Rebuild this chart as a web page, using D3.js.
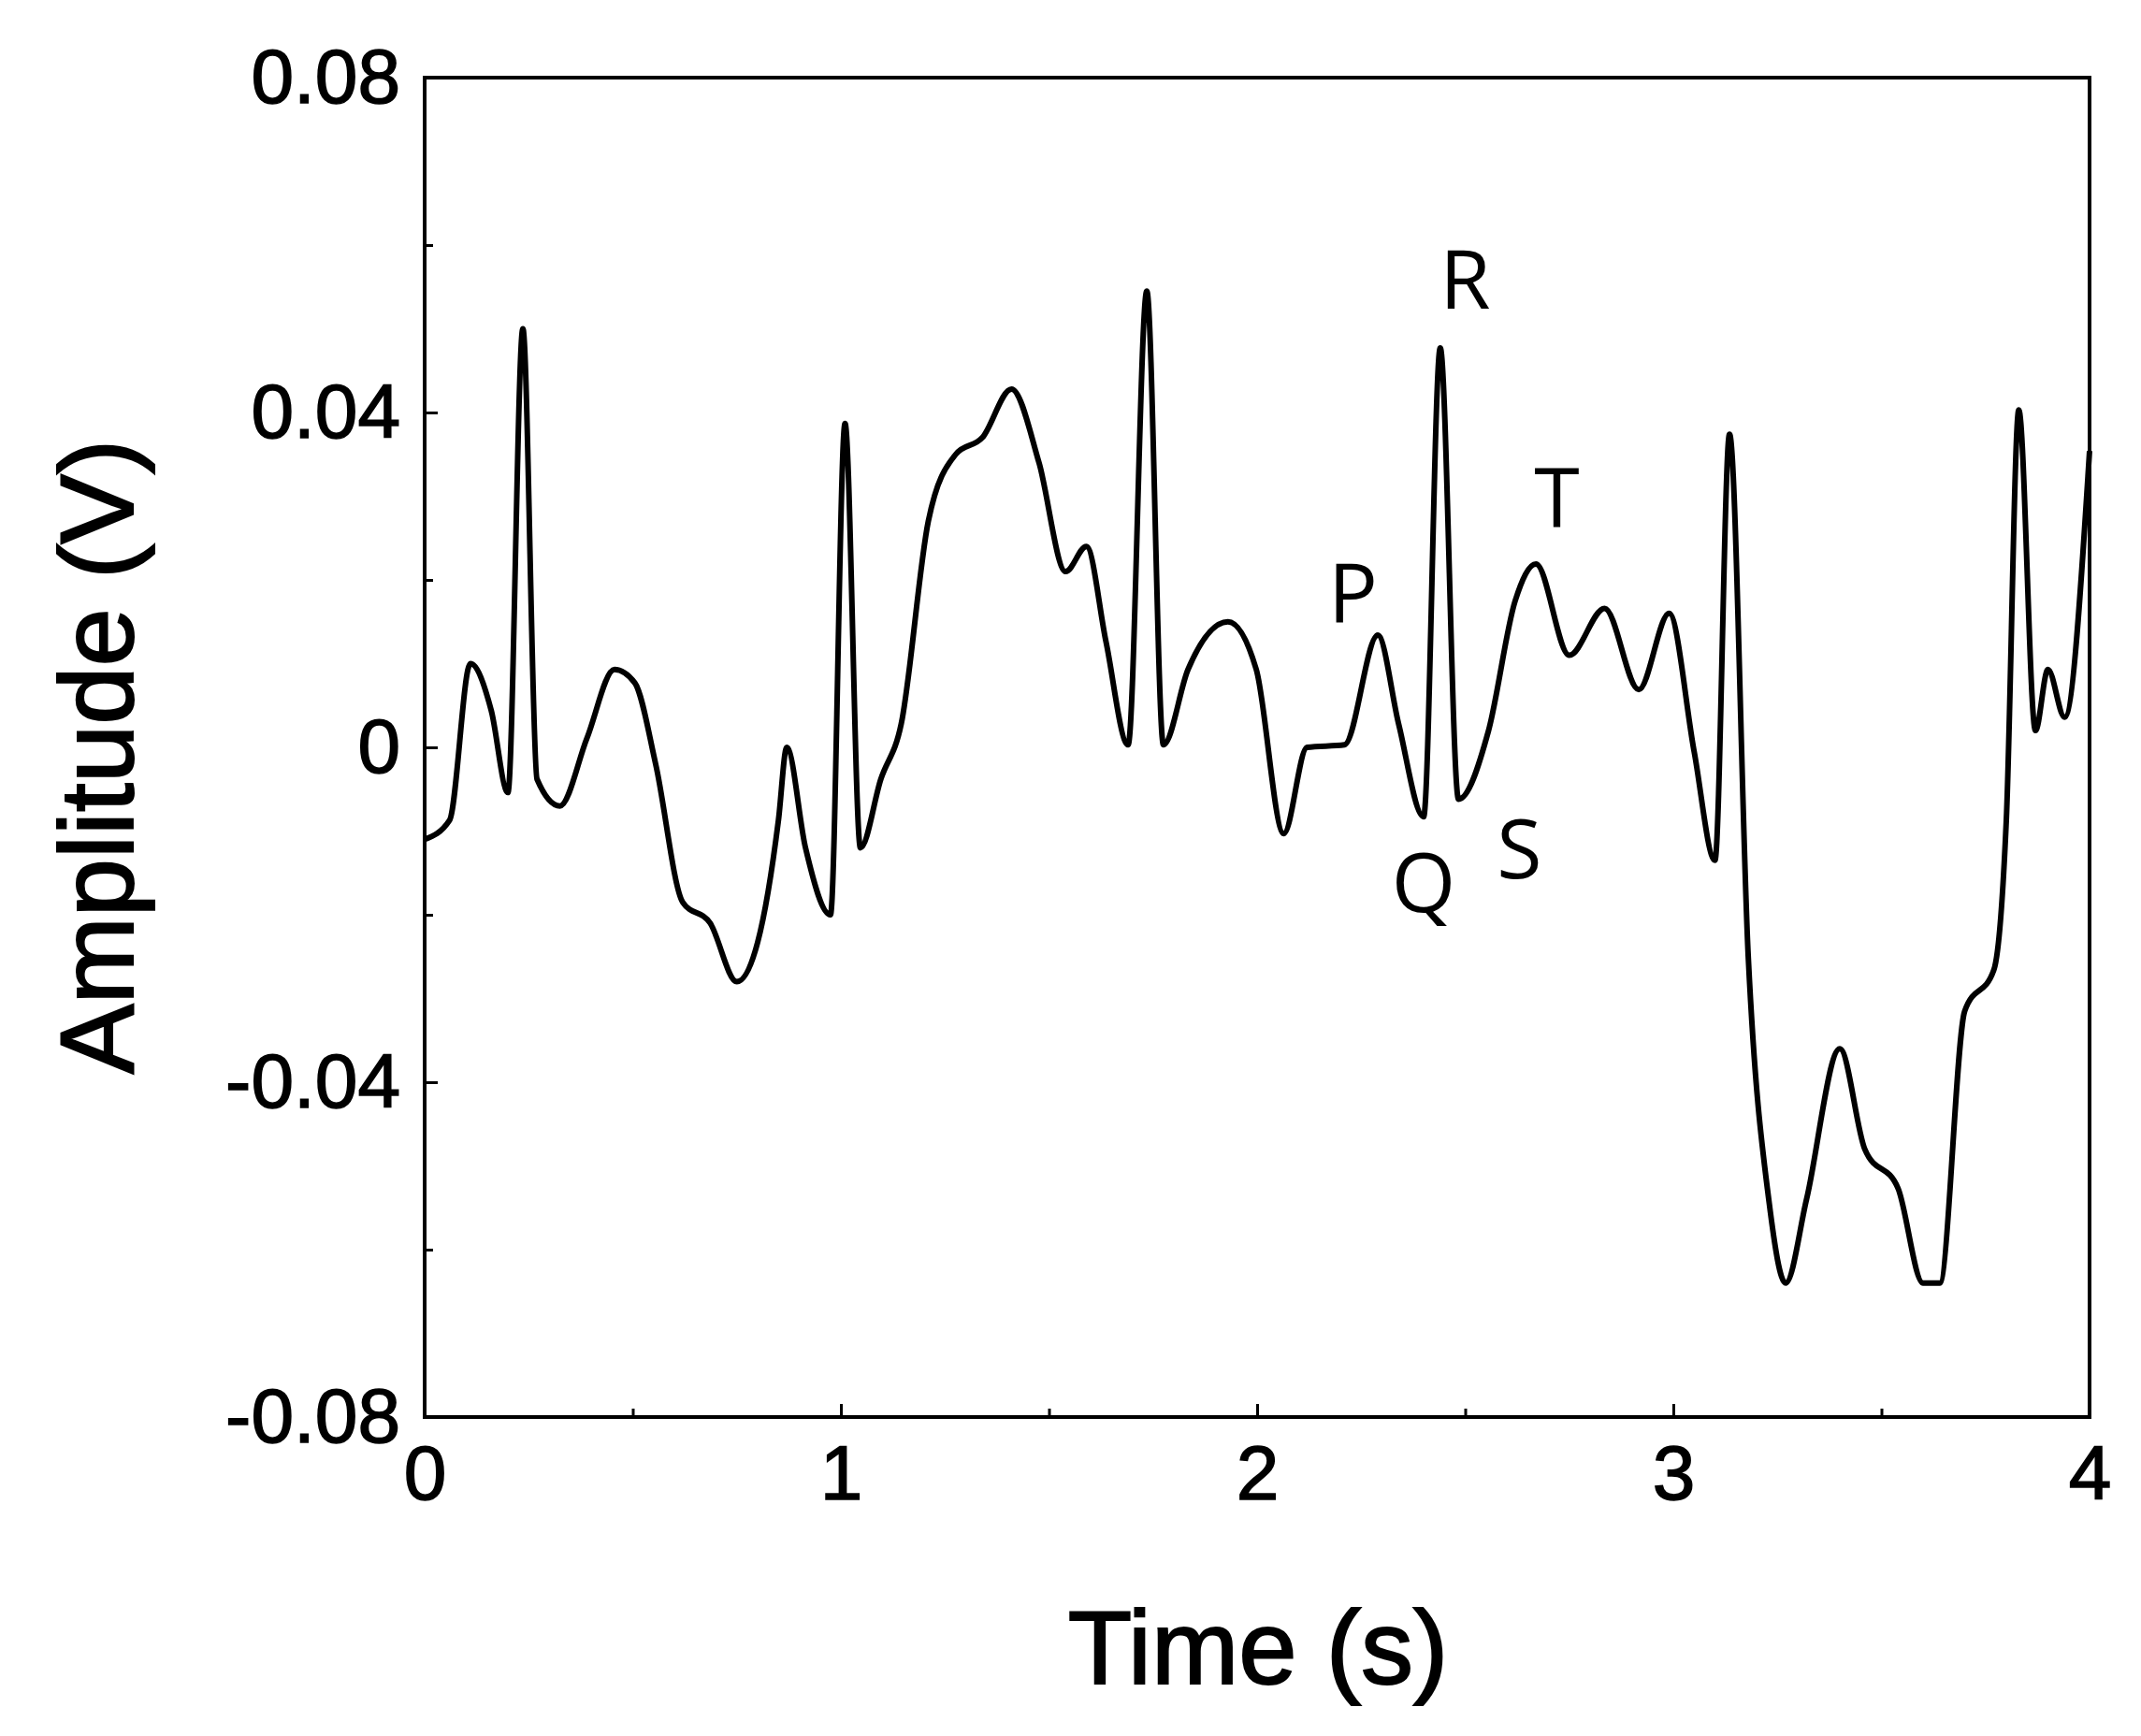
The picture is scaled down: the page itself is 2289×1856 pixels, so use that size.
<!DOCTYPE html><html><head><script src="https://d3js.org/d3.v7.min.js"></script>
<style>body{margin:0;background:#fff}</style></head><body><svg id="c" width="2289" height="1856"></svg>
<script>
const times=[0,0.06,0.11,0.16,0.20,0.236,0.27,0.325,0.39,0.456,0.505,0.555,0.62,0.686,0.75,0.80,0.85,0.87,0.915,0.975,1.01,1.047,1.096,1.145,1.21,1.276,1.34,1.41,1.476,1.54,1.59,1.637,1.69,1.735,1.775,1.834,1.93,1.998,2.064,2.12,2.21,2.29,2.34,2.40,2.44,2.484,2.556,2.62,2.67,2.75,2.835,2.917,2.99,3.05,3.10,3.135,3.18,3.23,3.27,3.32,3.40,3.46,3.54,3.60,3.64,3.70,3.77,3.80,3.83,3.87,3.90,3.94,4.0];
const amps=[-0.011,-0.0087,0.010,0.0044,-0.0054,0.050,-0.0038,-0.007,0.0011,0.0093,0.0077,-0.002,-0.0185,-0.021,-0.028,-0.0233,-0.0087,0,-0.012,-0.020,0.0387,-0.012,-0.0038,0.0028,0.027,0.035,0.037,0.0428,0.034,0.021,0.024,0.0126,0.0003,0.0545,0.0003,0.0093,0.015,0.0093,-0.0103,0,0.0003,0.0134,0.0028,-0.0083,0.0477,-0.0062,0.002,0.0175,0.0219,0.011,0.0166,0.0069,0.016,-0.0005,-0.0135,0.0374,-0.025,-0.0543,-0.064,-0.054,-0.036,-0.048,-0.0527,-0.064,-0.064,-0.0315,-0.0266,-0.0087,0.0403,0.002,0.0093,0.0036,0.0354];
const xTicks=[0,1,2,3,4];
const yTicks=[-0.08,-0.04,0,0.04,0.08];
const labels=[["P",2.23,0.0175],["R",2.50,0.0550],["T",2.72,0.0290],["Q",2.40,-0.0170],["S",2.63,-0.0130]];
const svg=d3.select("#c");
const L=454,R=2234,T=83,B=1515;
const x=d3.scaleLinear().domain([0,4]).range([L,R]);
const y=d3.scaleLinear().domain([-0.08,0.08]).range([B,T]);
const fmt=d=>d===0?"0":d.toFixed(2);
const ff="'Liberation Sans',Arial,sans-serif";
svg.append("g").attr("transform",`translate(0,${B})`).call(d3.axisBottom(x).tickValues(xTicks).tickFormat(d=>d).tickSize(-14).tickPadding(30));
svg.append("g").attr("transform",`translate(0,${B})`).call(d3.axisBottom(x).tickValues([0.5,1.5,2.5,3.5]).tickFormat("").tickSize(-9));
svg.append("g").attr("transform",`translate(${L},0)`).call(d3.axisLeft(y).tickValues(yTicks).tickFormat(fmt).tickSize(-14).tickPadding(26));
svg.append("g").attr("transform",`translate(${L},0)`).call(d3.axisLeft(y).tickValues([-0.06,-0.02,0.02,0.06]).tickFormat("").tickSize(-9));
svg.selectAll(".domain").remove();
svg.selectAll(".tick line").attr("stroke","#000").attr("stroke-width",3);
svg.selectAll(".tick text").attr("font-family",ff).attr("font-size",82).attr("fill","#000").attr("stroke","#000").attr("stroke-width",1.5);
svg.append("rect").attr("x",L).attr("y",T).attr("width",R-L).attr("height",B-T).attr("fill","none").attr("stroke","#000").attr("stroke-width",4);
const pts=times.map((t,i)=>[t,amps[i]]);
svg.append("path").datum(pts).attr("fill","none").attr("stroke","#000").attr("stroke-width",6).attr("stroke-linejoin","round")
 .attr("d",d3.line().x(d=>x(d[0])).y(d=>y(d[1])).curve(d3.curveMonotoneX));
svg.selectAll(".lab").data(labels).enter().append("text").attr("x",d=>x(d[1])).attr("y",d=>y(d[2]))
 .attr("text-anchor","middle").attr("dominant-baseline","middle").attr("font-family","'Open Sans',sans-serif").attr("font-size",88).text(d=>d[0]);
svg.append("text").attr("x",1345).attr("y",1800).attr("text-anchor","middle").attr("font-family",ff).attr("font-size",112).attr("stroke","#000").attr("stroke-width",2).text("Time (s)");
svg.append("text").attr("transform",`translate(142,${(T+B)/2+10}) rotate(-90)`).attr("text-anchor","middle").attr("font-family",ff).attr("font-size",112).attr("stroke","#000").attr("stroke-width",2).text("Amplitude (V)");
</script></body></html>
